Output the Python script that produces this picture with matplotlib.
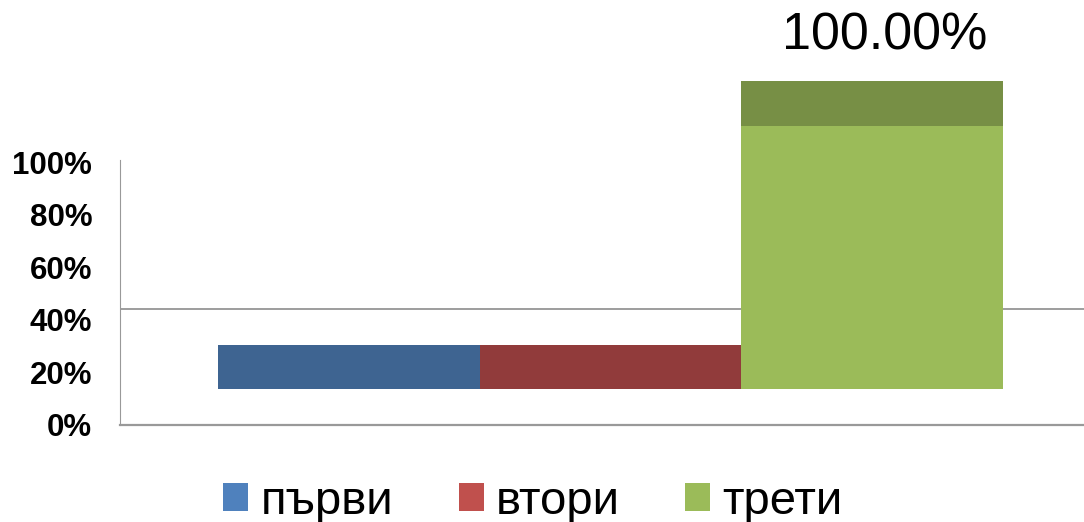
import matplotlib
matplotlib.use("Agg")
from matplotlib import pyplot as plt
from matplotlib.patches import Patch

plt.rcParams['font.family'] = ['Liberation Sans', 'DejaVu Sans']

# data
categories = ['първи', 'втори', 'трети']
values = [0.167, 0.167, 1.0]
value_labels = ['', '', '100.00%']
tick_values = [0, 0.2, 0.4, 0.6, 0.8, 1.0]
tick_labels = ['0%', '20%', '40%', '60%', '80%', '100%']

# styles
bar_colors = ['#3E6491', '#913B3B', '#9BBB59']
legend_colors = ['#4F81BD', '#C0504D', '#9BBB59']
top_color = '#778F45'
base = 0.137      # floating floor of the (broken) 3D bars
depth = 0.171     # visible top face of the tall bar
grid_y = 0.441

fig = plt.figure(figsize=(10.84, 5.22), dpi=100)
ax = fig.add_axes([120 / 1084, 97 / 522, 964 / 1084, 425 / 522])

x = range(len(categories))
ax.bar(x, values, width=1.0, bottom=base, color=bar_colors,
       edgecolor='none', zorder=3)
# top face of the tall bar
ax.bar(2, depth, width=1.0, bottom=base + values[2], color=top_color,
       edgecolor='none', zorder=3)

for i, lab in enumerate(value_labels):
    if lab:
        ax.text(i + 0.05, base + values[i] + depth + 0.17, lab, ha='center',
                va='center', fontsize=37.5, color='black')

ax.axhline(grid_y, color='#8c8c8c', lw=1.2, zorder=1)

ax.set_xlim(-0.876, 2.811)
ax.set_ylim(0, 425 / 263)
ax.set_xticks([])
ax.set_yticks(tick_values)
ax.set_yticklabels(tick_labels, fontsize=22.5, fontweight='bold')
ax.tick_params(axis='y', length=0, pad=20)

for s in ['top', 'right']:
    ax.spines[s].set_visible(False)
ax.spines['left'].set_bounds(0, 1.008)
ax.spines['left'].set_color('#999999')
ax.spines['bottom'].set_color('#999999')
ax.spines['bottom'].set_linewidth(1.6)

handles = [Patch(facecolor=c, edgecolor='none') for c in legend_colors]
fig.legend(handles, categories, loc='center', ncol=3,
           bbox_to_anchor=(533 / 1084, 20 / 522), frameon=False,
           fontsize=34, handlelength=0.53, handleheight=0.53,
           handletextpad=0.26, columnspacing=1.38, borderpad=0)

fig.savefig('out.png', dpi=100)
